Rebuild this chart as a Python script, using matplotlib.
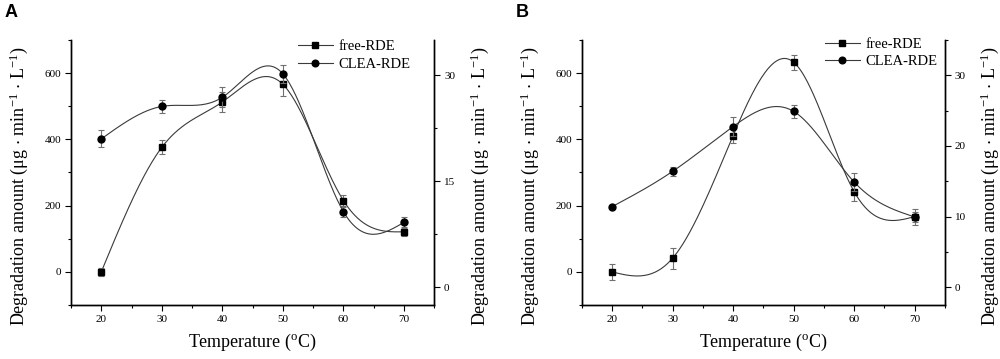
import numpy as np
import matplotlib
matplotlib.use("Agg")
import matplotlib.pyplot as plt
from matplotlib.ticker import MultipleLocator
from matplotlib.lines import Line2D

plt.rcParams['font.family'] = ['Liberation Serif', 'DejaVu Serif']
plt.rcParams['mathtext.fontset'] = 'stix'

temps = [20, 30, 40, 50, 60, 70]

# Panel A
a_free = [0, 376, 513, 566, 215, 121]
a_free_err = [12, 21, 30, 36, 18, 13]
a_clea = [21.0, 25.6, 26.9, 30.2, 10.7, 9.2]
a_clea_err = [1.2, 0.95, 1.4, 1.3, 0.75, 0.8]

# Panel B
b_free = [0, 41, 411, 633, 242, 167]
b_free_err = [25, 31, 22, 23, 28, 24]
b_clea = [11.4, 16.4, 22.75, 24.9, 14.9, 9.96]
b_clea_err = [0.2, 0.66, 1.4, 0.9, 1.3, 0.7]

panel_labels = ['A', 'B']
series_names = ['free-RDE', 'CLEA-RDE']
ylabel = r'Degradation amount (μg $\cdot$ min$^{\mathregular{-1}}$ $\cdot$ L$^{\mathregular{-1}}$)'
xlabel = r'Temperature ($^{\mathregular{o}}$C)'


def natural_spline(x, y, n=300):
    x = np.asarray(x, float)
    y = np.asarray(y, float)
    m = len(x)
    h = np.diff(x)
    A = np.zeros((m, m))
    r = np.zeros(m)
    A[0, 0] = 1
    A[-1, -1] = 1
    for i in range(1, m - 1):
        A[i, i - 1] = h[i - 1]
        A[i, i] = 2 * (h[i - 1] + h[i])
        A[i, i + 1] = h[i]
        r[i] = 3 * ((y[i + 1] - y[i]) / h[i] - (y[i] - y[i - 1]) / h[i - 1])
    c = np.linalg.solve(A, r)
    xs = np.linspace(x[0], x[-1], n)
    ys = np.empty_like(xs)
    for k, xv in enumerate(xs):
        i = min(np.searchsorted(x, xv, side='right') - 1, m - 2)
        dx = xv - x[i]
        b = (y[i + 1] - y[i]) / h[i] - h[i] * (2 * c[i] + c[i + 1]) / 3
        d = (c[i + 1] - c[i]) / (3 * h[i])
        ys[k] = y[i] + b * dx + c[i] * dx ** 2 + d * dx ** 3
    return xs, ys


fig = plt.figure(figsize=(10, 3.59), dpi=100)

panels = [
    (0.071, a_free, a_free_err, a_clea, a_clea_err, 15, 0.955, 1.028),
    (0.5817, b_free, b_free_err, b_clea, b_clea_err, 10, 1.0, 1.037),
]

line_col = '#3a3a3a'
err_col = '#707070'

for idx, (left, free, free_err, clea, clea_err, rstep, lgx, lgy) in enumerate(panels):
    ax = fig.add_axes([left, 0.1504, 0.3633, 0.7382])
    ax2 = ax.twinx()

    xs, ys = natural_spline(temps, free)
    ax.plot(xs, ys, color=line_col, lw=0.8, zorder=2)
    ax.errorbar(temps, free, yerr=free_err, fmt='none', ecolor=err_col,
                elinewidth=0.8, capsize=2.5, capthick=0.8, zorder=3)
    ax.plot(temps, free, 's', color='black', ms=4.8, zorder=4)

    xs2, ys2 = natural_spline(temps, clea)
    ax2.plot(xs2, ys2, color=line_col, lw=0.8, zorder=2)
    ax2.errorbar(temps, clea, yerr=clea_err, fmt='none', ecolor=err_col,
                 elinewidth=0.8, capsize=2.5, capthick=0.8, zorder=3)
    ax2.plot(temps, clea, 'o', color='black', ms=5.0, zorder=4)

    ax.set_xlim(15, 75)
    ax.set_ylim(-100, 700)
    ax2.set_ylim(-2.5, 35)
    ax.xaxis.set_major_locator(MultipleLocator(10))
    ax.xaxis.set_minor_locator(MultipleLocator(5))
    ax.yaxis.set_major_locator(MultipleLocator(200))
    ax.yaxis.set_minor_locator(MultipleLocator(100))
    ax2.yaxis.set_major_locator(MultipleLocator(rstep))
    ax2.yaxis.set_minor_locator(MultipleLocator(rstep / 2))

    for a in (ax, ax2):
        a.spines['top'].set_visible(False)
        for s in a.spines.values():
            s.set_linewidth(1.0)
        a.tick_params(which='major', direction='out', length=4, width=0.8,
                      labelsize=8, pad=3)
        a.tick_params(which='minor', direction='out', length=2.5, width=0.8)

    ax.set_ylabel(ylabel, fontsize=13)
    ax2.set_ylabel(ylabel, fontsize=13)
    ax.set_xlabel(xlabel, fontsize=13, labelpad=6)
    ax.yaxis.set_label_coords(-0.112, 0.45)
    ax2.yaxis.set_label_coords(1.093, 0.45)

    handles = [
        Line2D([], [], color=line_col, lw=0.8, marker='s', ms=4.5, mfc='black', mec='black'),
        Line2D([], [], color=line_col, lw=0.8, marker='o', ms=4.8, mfc='black', mec='black'),
    ]
    ax2.legend(handles, series_names, loc='upper right', frameon=False,
               fontsize=10.5, handlelength=2.4, handletextpad=0.4,
               borderaxespad=0.1, labelspacing=0.3,
               bbox_to_anchor=(lgx, lgy))

    fig.text(left - 0.066, 0.965, panel_labels[idx], fontsize=13, fontweight='bold',
             family=['Liberation Sans', 'DejaVu Sans'], va='center', ha='left')

fig.savefig('out.png', dpi=100, facecolor='white')
